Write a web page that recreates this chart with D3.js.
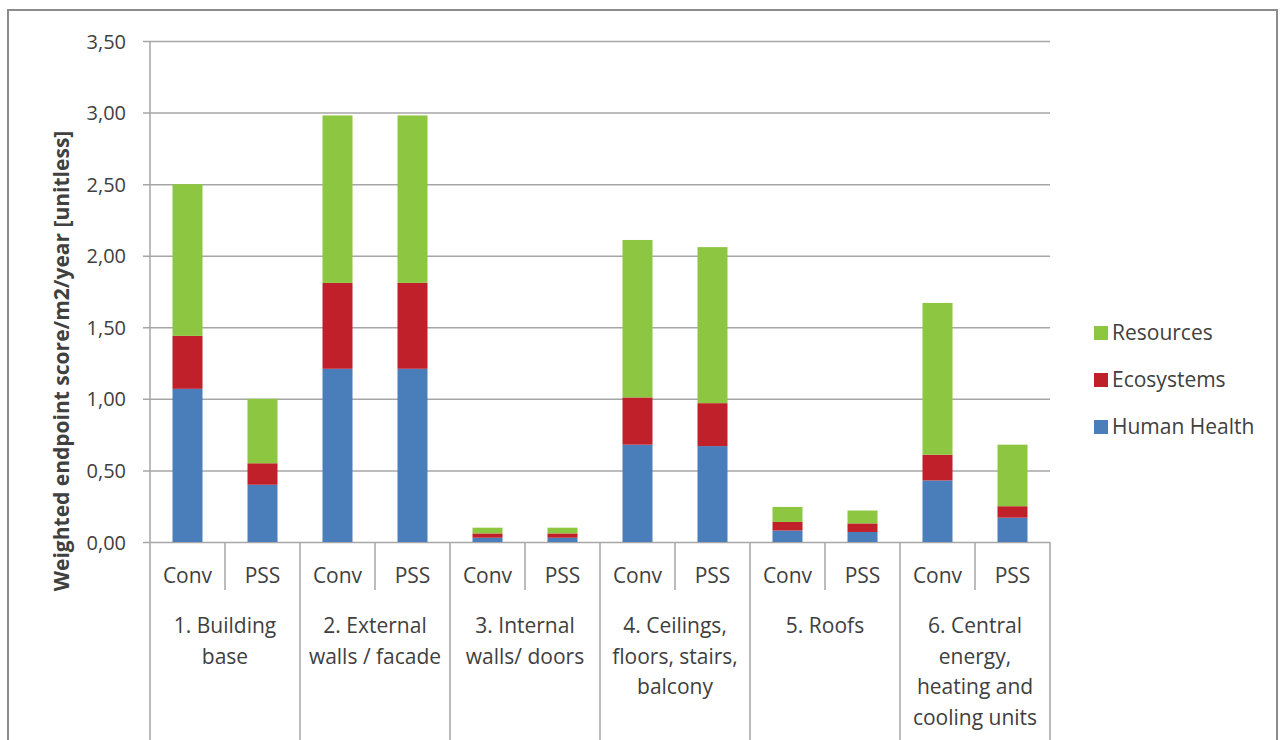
<!DOCTYPE html>
<html>
<head>
<meta charset="utf-8">
<script src="https://cdn.jsdelivr.net/npm/d3@7"></script>
<style>
  body { margin: 0; background: #fff; }
  text { font-family: "Open Sans", "DejaVu Sans", sans-serif; fill: #404040; }
</style>
</head>
<body>
<script>
// values
var groups = [
  ["1. Building", "base"],
  ["2. External", "walls / facade"],
  ["3. Internal", "walls/ doors"],
  ["4. Ceilings,", "floors, stairs,", "balcony"],
  ["5. Roofs"],
  ["6. Central", "energy,", "heating and", "cooling units"]
];
var cases = ["Conv", "PSS"];
var humanHealth = [1.07, 0.40, 1.21, 1.21, 0.03, 0.03, 0.68, 0.67, 0.08, 0.07, 0.43, 0.17];
var ecosystems  = [0.37, 0.15, 0.60, 0.60, 0.03, 0.03, 0.33, 0.30, 0.06, 0.06, 0.18, 0.08];
var resources   = [1.06, 0.45, 1.17, 1.17, 0.04, 0.04, 1.10, 1.09, 0.105, 0.09, 1.06, 0.43];
var yTicks = [0, 0.5, 1, 1.5, 2, 2.5, 3, 3.5];

var seriesNames = ["Human Health", "Ecosystems", "Resources"];
var colors = {"Human Health": "#4a7ebb", "Ecosystems": "#c0202a", "Resources": "#8dc641"};

var w = 1288, h = 740;
var plotLeft = 150, plotRight = 1050, plotTop = 41, plotBottom = 542;

// one row per bar
var rows = [];
groups.forEach(function(g, gi){
  cases.forEach(function(c, ci){
    var i = gi * 2 + ci;
    rows.push({key: i, group: gi, kase: c,
      "Human Health": humanHealth[i], "Ecosystems": ecosystems[i], "Resources": resources[i]});
  });
});

var svg = d3.select("body").append("svg").attr("width", w).attr("height", h);

// outer frame
svg.append("rect").attr("x", 8).attr("y", 10).attr("width", 1269).attr("height", 760)
  .attr("fill", "#fff").attr("stroke", "#8c8c8c").attr("stroke-width", 2);

var x = d3.scaleBand().domain(rows.map(function(d){ return d.key; }))
  .range([plotLeft, plotRight]).paddingInner(0.6).paddingOuter(0.3);
var y = d3.scaleLinear().domain([0, 3.5]).range([plotBottom, plotTop]);
var xGroup = d3.scaleBand().domain(d3.range(groups.length)).range([plotLeft, plotRight]);

// gridlines + y axis
var yAxis = d3.axisLeft(y).tickValues(yTicks).tickSize(-(plotRight - plotLeft))
  .tickFormat(function(d){ return d3.format(".2f")(d).replace(".", ","); });
var ya = svg.append("g").attr("transform", "translate(" + plotLeft + ",0)").call(yAxis);
ya.select(".domain").remove();
ya.selectAll(".tick line").attr("stroke", "#a6a6a6").attr("stroke-width", 1.5).attr("x1", -7);
ya.selectAll(".tick text").attr("x", -24).attr("dy", "0.35em")
  .style("font-size", "20px").attr("fill", "#404040");

svg.append("line").attr("x1", plotLeft).attr("x2", plotLeft).attr("y1", plotTop).attr("y2", plotBottom)
  .attr("stroke", "#a6a6a6").attr("stroke-width", 1.5);

// stacked bars
var stack = d3.stack().keys(seriesNames);
var layers = stack(rows);
svg.append("g").selectAll("g").data(layers).join("g")
  .attr("fill", function(d){ return colors[d.key]; })
  .selectAll("rect").data(function(d){ return d; }).join("rect")
  .attr("x", function(d){ return x(d.data.key); })
  .attr("width", x.bandwidth())
  .attr("y", function(d){ return y(d[1]); })
  .attr("height", function(d){ return y(d[0]) - y(d[1]); });

// category axis: separators
var sep = svg.append("g").attr("stroke", "#a6a6a6").attr("stroke-width", 1.5);
d3.range(groups.length + 1).forEach(function(i){
  var gx = i < groups.length ? xGroup(i) : plotRight;
  sep.append("line").attr("x1", gx).attr("x2", gx).attr("y1", plotBottom).attr("y2", h);
});
groups.forEach(function(g, gi){
  var mx = xGroup(gi) + xGroup.bandwidth() / 2;
  sep.append("line").attr("x1", mx).attr("x2", mx).attr("y1", plotBottom).attr("y2", 590);
});

// case labels
svg.append("g").selectAll("text").data(rows).join("text")
  .attr("x", function(d){ return x(d.key) + x.bandwidth() / 2; })
  .attr("y", 576).attr("dy", "0.35em").attr("text-anchor", "middle")
  .style("font-size", "21px").text(function(d){ return d.kase; });

// group labels
var gl = svg.append("g").selectAll("text").data(groups).join("text")
  .attr("text-anchor", "middle").style("font-size", "21px")
  .attr("transform", function(d, i){ return "translate(" + (xGroup(i) + xGroup.bandwidth() / 2) + ",626)"; });
gl.selectAll("tspan").data(function(d){ return d; }).join("tspan")
  .attr("x", 0).attr("y", function(d, i){ return i * 30.5; }).attr("dy", "0.35em")
  .text(function(d){ return d; });

// y axis title
svg.append("text").attr("transform", "translate(62,361) rotate(-90)")
  .attr("text-anchor", "middle").attr("dy", "0.35em")
  .style("font-size", "21px").style("font-weight", "bold").attr("fill", "#000")
  .text("Weighted endpoint score/m2/year [unitless]");

// legend
var legendItems = ["Resources", "Ecosystems", "Human Health"];
var lg = svg.append("g").selectAll("g").data(legendItems).join("g")
  .attr("transform", function(d, i){ return "translate(1094," + (333 + i * 47) + ")"; });
lg.append("rect").attr("x", 0).attr("y", -7).attr("width", 14).attr("height", 14)
  .attr("fill", function(d){ return colors[d]; });
lg.append("text").attr("x", 18).attr("dy", "0.35em").style("font-size", "21px")
  .text(function(d){ return d; });
</script>
</body>
</html>
